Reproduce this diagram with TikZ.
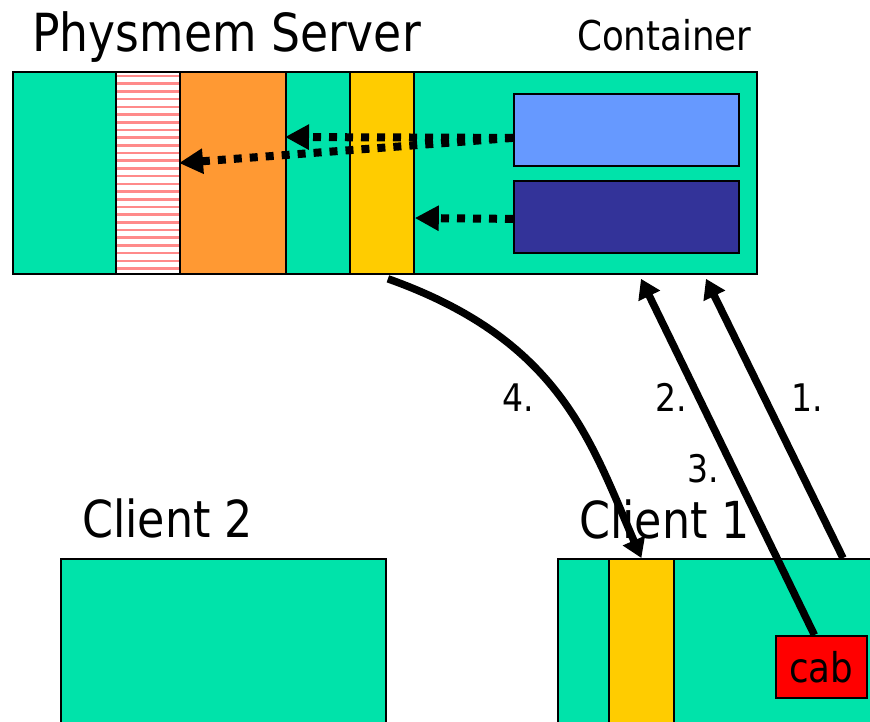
\documentclass[tikz,border=0pt]{standalone}
\usepackage{fontspec}
\setmainfont{DejaVu Sans}
\newfontfamily\narrowfont{DejaVu Sans}[FakeStretch=0.87]
\usetikzlibrary{arrows.meta, positioning, calc}
\definecolor{MemGreen}{HTML}{00E3AA}
\definecolor{MemOrange}{HTML}{FF9933}
\definecolor{MemYellow}{HTML}{FFCC00}
\definecolor{LightBlue}{HTML}{6699FF}
\definecolor{DarkBlue}{HTML}{333399}
\definecolor{StripeRed}{HTML}{FF8A8A}
\definecolor{CabRed}{HTML}{FF0000}

\tikzset{
  cell/.style={draw=black, line width=1.8pt, anchor=north west, inner sep=0pt, minimum height=202pt},
  slot/.style={draw=black, line width=1.8pt, anchor=north west, inner sep=0pt},
  caption/.style={anchor=base west, inner sep=0pt},
  steplabel/.style={caption, font=\narrowfont\fontsize{38}{42}\selectfont},
  mapping/.style={line width=8pt, dash pattern=on 8pt off 8pt, -{Triangle[length=24pt,width=24pt]}},
  request/.style={line width=7.5pt, -{Triangle[length=19pt,width=23pt]}},
}

\begin{document}
\begin{tikzpicture}[x=1pt, y=-1pt]
  \useasboundingbox (0,0) rectangle (870,721);

  % server memory
  \node[cell, fill=MemGreen, minimum width=744pt] (server) at (12,71) {};
  \node[cell, fill=MemGreen, minimum width=103pt] (greenA) at (12,71) {};
  \node[cell, fill=white, minimum width=64pt] (stripes) at (115,71) {};
  \foreach \k in {0,...,25}
    \draw[StripeRed, line width=2.6pt] ($(stripes.north west)+(1.5,5+\k*7.7)$) -- ($(stripes.north east)+(-1.5,5+\k*7.7)$);
  \node[cell, fill=MemOrange, minimum width=106pt] (orange) at (179,71) {};
  \node[cell, fill=MemGreen, minimum width=64pt] (greenB) at (285,71) {};
  \node[cell, fill=MemYellow, minimum width=64pt] (yellowS) at (349,71) {};
  \node[slot, fill=LightBlue, minimum width=225pt, minimum height=72pt] (upper) at (513,93) {};
  \node[slot, fill=DarkBlue, minimum width=225pt, minimum height=72pt] (lower) at (513,180) {};

  % clients
  \node[slot, fill=MemGreen, minimum width=325pt, minimum height=190pt] (client2) at (60,558) {};
  \node[slot, fill=MemGreen, minimum width=330pt, minimum height=190pt] (client1) at (557,558) {};
  \node[slot, fill=MemYellow, minimum width=65pt, minimum height=190pt] (yellowC) at (608,558) {};
  \node[slot, fill=CabRed, minimum width=91pt, minimum height=62pt,
        font=\narrowfont\fontsize{41}{46}\selectfont] (cab) at (775,635) {cab};

  % captions
  \node[caption, font=\narrowfont\fontsize{52.5}{58}\selectfont] (servername) at (32,51) {Physmem Server};
  \node[caption, font=\narrowfont\fontsize{41}{46}\selectfont] (containername) at (577,50) {Container};
  \node[caption, font=\narrowfont\fontsize{51}{58}\selectfont] (client2name) at (82,537) {Client 2};
  \node[caption, font=\narrowfont\fontsize{51}{58}\selectfont] (client1name) at (579,538) {Client 1};
  \node[steplabel] (stepfour) at (502,411) {4.};
  \node[steplabel] (steptwo) at (655,411) {2.};
  \node[steplabel] (stepone) at (791,411) {1.};
  \node[steplabel] (stepthree) at (687,482) {3.};

  % mappings inside the server
  \draw[mapping] ($(upper.west)+(0,8)$) -- ($(greenB.north west)+(0,66)$);
  \draw[mapping] ($(upper.west)+(0,8)$) -- ($(orange.north west)+(0,92)$);
  \draw[mapping] ($(lower.west)+(0,2)$) -- ($(yellowS.north east)+(0,147)$);

  % requests between client and server
  \draw[request] ($(client1.north west)+(286,0)$) -- ($(server.south west)+(694,4)$);
  \draw[request] ($(cab.north)+(-7,0)$) -- ($(server.south west)+(629,4)$);
  \draw[request] ($(yellowS.south)+(6,4)$) .. controls (560,340) and (590,440) .. (yellowC.north);
\end{tikzpicture}
\end{document}
